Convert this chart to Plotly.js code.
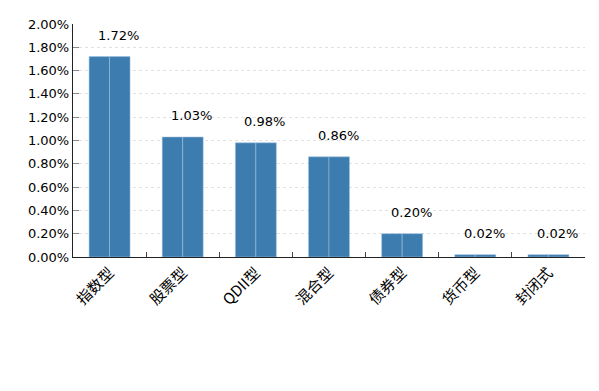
<!DOCTYPE html>
<html><head><meta charset="utf-8">
<script src="https://cdn.plot.ly/plotly-3.0.1.min.js"></script>
<style>html,body{margin:0;padding:0;background:#fff}</style>
</head><body>
<div id="chart" style="width:599px;height:391px"></div>
<script>
const categories = ["指数型","股票型","QDII型","混合型","债券型","货币型","封闭式"];
const values = [1.72, 1.03, 0.98, 0.86, 0.20, 0.02, 0.02];
const labels = ["1.72%","1.03%","0.98%","0.86%","0.20%","0.02%","0.02%"];
const yTicks = [0,0.2,0.4,0.6,0.8,1.0,1.2,1.4,1.6,1.8,2.0];
const yTickText = yTicks.map(v => v.toFixed(2) + "%");

const barColor = "#3d7caf";
const half = {
  type: "bar", x: categories, y: values,
  marker: {color: barColor, line: {color: "rgba(160,195,225,0.9)", width: 0.6}},
  hoverinfo: "skip", showlegend: false
};
const data = [Object.assign({}, half), Object.assign({}, half)];

const annotations = categories.map((c, i) => ({
  x: c, y: values[i], text: labels[i], xref: "x", yref: "y",
  showarrow: false, yanchor: "bottom", xanchor: "center",
  xshift: 9, yshift: 12,
  font: {family: "DejaVu Sans, Verdana, sans-serif", size: 13, color: "#000"}
}));

const layout = {
  width: 599, height: 391,
  margin: {l: 73, r: 14, t: 24, b: 134},
  paper_bgcolor: "#fff", plot_bgcolor: "#fff",
  barmode: "group", bargap: 0.44, bargroupgap: 0,
  xaxis: {
    type: "category", showline: true, linecolor: "#222", linewidth: 1.2,
    ticks: "inside", tickson: "boundaries", ticklen: 5, tickcolor: "#444",
    tickangle: -45, showgrid: false,
    tickfont: {family: "Noto Sans CJK SC, sans-serif", size: 15, color: "#000"}
  },
  yaxis: {
    range: [0, 2.0], tickvals: yTicks, ticktext: yTickText,
    showline: true, linecolor: "#222", linewidth: 1.2,
    ticks: "inside", ticklen: 6, tickcolor: "#888",
    showgrid: true, gridcolor: "#e2e2e2", griddash: "dot", gridwidth: 1,
    zeroline: false,
    tickfont: {family: "DejaVu Sans, Verdana, sans-serif", size: 13, color: "#000"}
  },
  annotations: annotations
};
Plotly.newPlot("chart", data, layout, {staticPlot: true, displayModeBar: false});
</script>
</body></html>
